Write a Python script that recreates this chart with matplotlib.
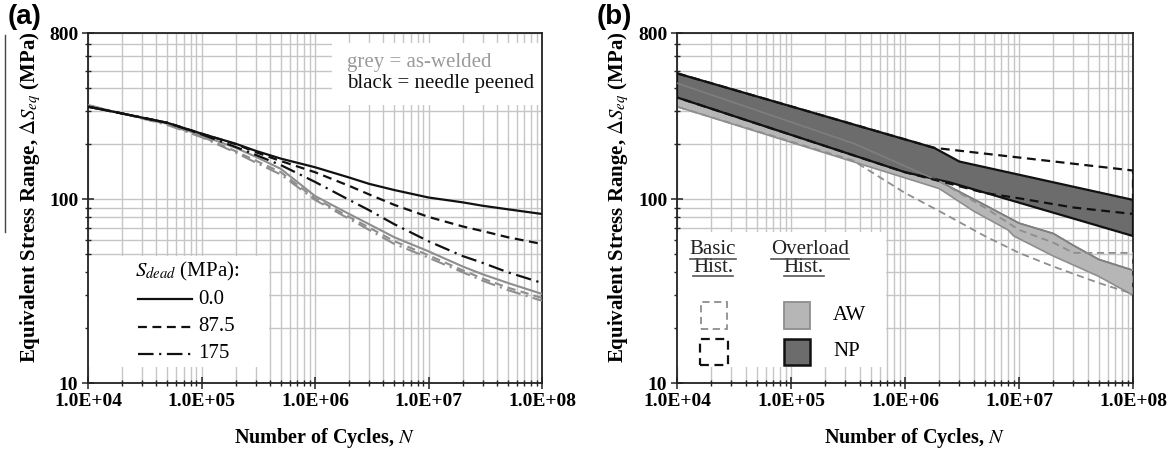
import matplotlib
matplotlib.use('Agg')
import matplotlib.pyplot as plt
from matplotlib.patches import Rectangle
from matplotlib.lines import Line2D
from matplotlib.ticker import FixedLocator, NullFormatter

plt.rcParams['font.family'] = ['Liberation Serif', 'DejaVu Serif']
plt.rcParams['mathtext.fontset'] = 'stix'

# ---------------- axis ticks ----------------
x_major = [1e4, 1e5, 1e6, 1e7, 1e8]
x_labels = ['1.0E+04', '1.0E+05', '1.0E+06', '1.0E+07', '1.0E+08']
y_major = [10, 100, 800]
y_labels = ['10', '100', '800']

# ---------------- panel (a) data ----------------
cycles_a = [1e4, 2e4, 5e4, 1e5, 2e5, 3e5, 5e5, 1e6, 2e6, 3e6, 5e6, 1e7, 2e7, 3e7, 5e7, 1e8]
np_dead_0 = [318, 292, 260, 227, 200, 183, 166, 149, 131, 121, 112, 102, 96, 92, 88, 83]
np_dead_87 = [318, 292, 260, 227, 199, 180, 161, 140, 118, 106, 93, 80, 71, 67, 62, 57]
np_dead_175 = [318, 292, 260, 225, 192, 174, 153, 124, 99, 87, 73, 59, 49, 45, 40, 35]
aw_dead_0 = [322, 292, 257, 222, 190, 170, 146, 104, 83, 73, 62, 52, 43, 39, 35, 30.5]
aw_dead_87 = [322, 292, 256, 219, 182, 162, 140, 101, 80, 70, 59, 49.5, 41, 37, 33, 29]
aw_dead_175 = [325, 292, 253, 217, 179, 158, 136, 99, 78, 68, 57, 48, 40, 36, 32, 28]

# ---------------- panel (b) data ----------------
np_over_upper_N = [1e4, 1.8e6, 3e6, 1e8]
np_over_upper_S = [483, 190, 160, 99]
np_over_lower_N = [1e4, 1e6, 2.5e6, 1e8]
np_over_lower_S = [357, 140, 123, 63]

aw_over_upper_N = [1e4, 3.6e5, 2e6, 5e6, 1e7, 2e7, 3e7, 5e7, 1e8]
aw_over_upper_S = [427, 200, 125, 93, 74, 65, 56, 47, 41]
aw_over_lower_N = [1e4, 2e6, 4e6, 8e6, 9e6, 2e7, 5e7, 1e8]
aw_over_lower_S = [318, 114, 86, 68, 63, 49, 38, 30]

np_basic_upper_N = [1e4, 1.8e6, 1e8]
np_basic_upper_S = [483, 190, 143]
np_basic_lower_N = [1e4, 1e6, 2.5e6, 5e6, 1e7, 3e7, 1e8]
np_basic_lower_S = [357, 140, 121, 108, 101, 90, 83]

aw_basic_upper_N = [1e4, 3.6e5, 2e6, 5e6, 1e7, 2e7, 3e7, 1e8]
aw_basic_upper_S = [427, 200, 125, 90, 68, 58, 51, 51]
aw_basic_lower_N = [1e4, 3.5e5, 1e6, 2e6, 5e6, 1e7, 2e7, 5e7, 1e8]
aw_basic_lower_S = [318, 162, 108, 86, 63, 51, 43, 35, 30.5]

# ---------------- styles ----------------
BLACK = '#111111'
GREY = '#8e8e8e'
GRID = '#c6c6c6'
DARK_FILL = '#6c6c6c'
LIGHT_FILL = '#b6b6b6'
DASH = (0, (4, 2.5))
DASHDOT = (0, (7, 2.5, 1, 2.5))

W, H = 1174, 450
fig = plt.figure(figsize=(W / 100, H / 100), dpi=100)
ax_a = fig.add_axes([88 / W, 67 / H, 454 / W, 350 / H])
ax_b = fig.add_axes([677 / W, 67 / H, 456 / W, 350 / H])

minor_x = [m * 10 ** e for e in range(4, 8) for m in range(2, 10)]
minor_y = [m * 10 for m in range(2, 10)] + [m * 100 for m in range(2, 8)]


def style(ax):
    ax.set_xscale('log')
    ax.set_yscale('log')
    ax.set_xlim(1e4, 1e8)
    ax.set_ylim(10, 800)
    ax.set_xticks(x_major, labels=x_labels, fontsize=14, fontweight='bold')
    ax.set_yticks(y_major, labels=y_labels, fontsize=14, fontweight='bold')
    ax.xaxis.set_minor_locator(FixedLocator(minor_x))
    ax.yaxis.set_minor_locator(FixedLocator(minor_y))
    ax.xaxis.set_minor_formatter(NullFormatter())
    ax.yaxis.set_minor_formatter(NullFormatter())
    ax.grid(True, which='both', color=GRID, lw=1.0)
    ax.set_axisbelow(True)
    ax.tick_params(which='major', direction='inout', length=8, width=1.1,
                   color='#222222', pad=3)
    ax.tick_params(which='minor', direction='inout', length=5, width=1.0,
                   color='#222222')
    for s in ax.spines.values():
        s.set_color('#222222')
        s.set_linewidth(1.3)
    ax.set_xlabel('Number of Cycles, $\\mathit{N}$', fontsize=14.5, fontweight='bold')
    ax.xaxis.set_label_coords(0.52, -0.122)
    ax.set_ylabel('Equivalent Stress Range, $\\mathit{\\Delta S_{eq}}$ (MPa)',
                  fontsize=15, fontweight='bold')
    ax.yaxis.set_label_coords(-0.10, 0.53)


style(ax_a)
style(ax_b)

# ---------------- panel (a) ----------------
ax_a.plot(cycles_a, aw_dead_175, color=GREY, lw=1.5, ls=DASHDOT, zorder=3)
ax_a.plot(cycles_a, aw_dead_87, color=GREY, lw=1.5, ls=DASH, zorder=3)
ax_a.plot(cycles_a, aw_dead_0, color=GREY, lw=1.5, ls='-', zorder=3)
ax_a.plot(cycles_a, np_dead_175, color=BLACK, lw=1.6, ls=DASHDOT, zorder=4)
ax_a.plot(cycles_a, np_dead_87, color=BLACK, lw=1.6, ls=DASH, zorder=4)
ax_a.plot(cycles_a, np_dead_0, color=BLACK, lw=1.6, ls='-', zorder=4)

# white boxes hiding grid
ax_a.add_patch(Rectangle((0, 0.046), 0.398, 0.318, transform=ax_a.transAxes,
                         facecolor='white', edgecolor='none', zorder=1))
ax_a.add_patch(Rectangle((0.537, 0.794), 0.46, 0.177, transform=ax_a.transAxes,
                         facecolor='white', edgecolor='none', zorder=1))

ax_a.text(0.570, 0.917, 'grey = as-welded', transform=ax_a.transAxes, color='#9a9a9a',
          fontsize=15, va='center', ha='left', zorder=5)
ax_a.text(0.570, 0.857, 'black = needle peened', transform=ax_a.transAxes, color=BLACK,
          fontsize=15, va='center', ha='left', zorder=5)

# legend (a)
ax_a.text(0.104, 0.318, '$S_{dead}$ (MPa):', transform=ax_a.transAxes, fontsize=15,
          va='center', ha='left', zorder=5)
leg_items = [('-', '0.0', 0.240), (DASH, '87.5', 0.161), (DASHDOT, '175', 0.083)]
for ls, lab, yy in leg_items:
    ax_a.add_line(Line2D([0.110, 0.229], [yy, yy], transform=ax_a.transAxes,
                         color=BLACK, lw=1.6, ls=ls, zorder=5))
    ax_a.text(0.242, yy, lab, transform=ax_a.transAxes, fontsize=15,
              va='center', ha='left', zorder=5)

# ---------------- panel (b) ----------------
aw_poly_x = aw_over_upper_N + aw_over_lower_N[::-1]
aw_poly_y = aw_over_upper_S + aw_over_lower_S[::-1]
ax_b.fill(aw_poly_x, aw_poly_y, facecolor=LIGHT_FILL, edgecolor=GREY, lw=1.2, zorder=2)

np_poly_x = np_over_upper_N + np_over_lower_N[::-1]
np_poly_y = np_over_upper_S + np_over_lower_S[::-1]
ax_b.fill(np_poly_x, np_poly_y, facecolor=DARK_FILL, edgecolor=BLACK, lw=1.6, zorder=3)

# AW upper edge visible through the NP band
ax_b.plot(aw_over_upper_N, aw_over_upper_S, color='#7e7e7e', lw=1.2, zorder=4)

# basic-history bounds (dashed)
ax_b.plot(np_basic_upper_N + np_basic_lower_N[::-1],
          np_basic_upper_S + np_basic_lower_S[::-1],
          color=BLACK, lw=1.6, ls=DASH, zorder=5)
ax_b.plot(aw_basic_upper_N[2:] + aw_basic_lower_N[::-1],
          aw_basic_upper_S[2:] + aw_basic_lower_S[::-1],
          color=GREY, lw=1.3, ls=DASH, zorder=5)

# legend (b)
ax_b.add_patch(Rectangle((0, 0.046), 0.458, 0.385, transform=ax_b.transAxes,
                         facecolor='white', edgecolor='none', zorder=1))
txts = []
for xx, yy, s in [(0.079, 0.380, 'Basic'), (0.079, 0.331, 'Hist.'),
                  (0.292, 0.380, 'Overload'), (0.278, 0.331, 'Hist.')]:
    txts.append(ax_b.text(xx, yy, s, transform=ax_b.transAxes, fontsize=15,
                          ha='center', va='center', color='#222222', zorder=6))
ax_b.add_patch(Rectangle((0.053, 0.154), 0.057, 0.077, transform=ax_b.transAxes,
                         facecolor='none', edgecolor=GREY, lw=1.3, ls=DASH, zorder=6))
ax_b.add_patch(Rectangle((0.050, 0.051), 0.062, 0.075, transform=ax_b.transAxes,
                         facecolor='none', edgecolor=BLACK, lw=1.6, ls=DASH, zorder=6))
ax_b.add_patch(Rectangle((0.235, 0.154), 0.057, 0.077, transform=ax_b.transAxes,
                         facecolor=LIGHT_FILL, edgecolor=GREY, lw=1.3, zorder=6))
ax_b.add_patch(Rectangle((0.235, 0.051), 0.057, 0.075, transform=ax_b.transAxes,
                         facecolor=DARK_FILL, edgecolor=BLACK, lw=1.8, zorder=6))
ax_b.text(0.342, 0.194, 'AW', transform=ax_b.transAxes, fontsize=15,
          ha='left', va='center', zorder=6)
ax_b.text(0.342, 0.091, 'NP', transform=ax_b.transAxes, fontsize=15,
          ha='left', va='center', zorder=6)

# panel letters
fig.text(8 / W, 1 - 4 / H, '(a)', fontsize=20, fontweight='bold',
         family=['Liberation Sans', 'DejaVu Sans'], ha='left', va='top')
fig.text(597 / W, 1 - 4 / H, '(b)', fontsize=20, fontweight='bold',
         family=['Liberation Sans', 'DejaVu Sans'], ha='left', va='top')
# scan edge line at far left
fig.add_artist(Line2D([4.5 / W, 4.5 / W], [1 - 35 / H, 1 - 232 / H],
                      transform=fig.transFigure, color='#444444', lw=1))

# underline legend headers in (b)
fig.canvas.draw()
renderer = fig.canvas.get_renderer()
inv = fig.transFigure.inverted()
for t in txts:
    bb = t.get_window_extent(renderer)
    (x0, y0), (x1, y1) = inv.transform([(bb.x0, bb.y0 + 1), (bb.x1, bb.y0 + 1)])
    fig.add_artist(Line2D([x0, x1], [y0, y1], transform=fig.transFigure,
                          color='#555555', lw=1.2))

fig.savefig('out.png', dpi=100)
